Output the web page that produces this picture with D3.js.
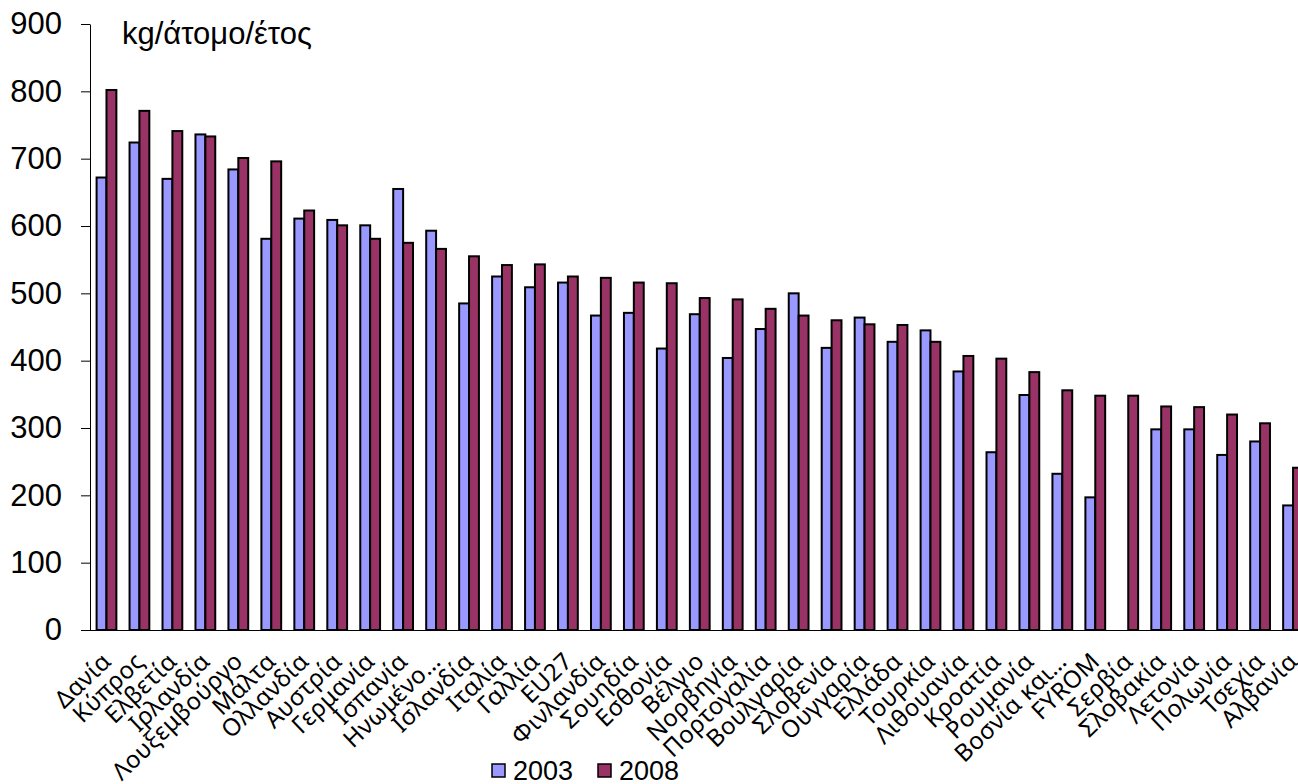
<!DOCTYPE html>
<html>
<head>
<meta charset="utf-8">
<script src="https://cdn.jsdelivr.net/npm/d3@7/dist/d3.min.js"></script>
<style>
  html, body { margin: 0; padding: 0; background: #fff; overflow: hidden; }
  svg { display: block; }
</style>
</head>
<body>
<svg id="chart" width="1298" height="784"></svg>
<script>
// Municipal waste generated per inhabitant (kg/person/year)
const categories = ["Δανία","Κύπρος","Ελβετία","Ιρλανδία","Λουξεμβούργο","Μάλτα","Ολλανδία","Αυστρία","Γερμανία","Ισπανία","Ηνωμένο…","Ισλανδία","Ιταλία","Γαλλία","EU27","Φινλανδία","Σουηδία","Εσθονία","Βέλγιο","Νορβηγία","Πορτογαλία","Βουλγαρία","Σλοβενία","Ουγγαρία","Ελλάδα","Τουρκία","Λιθουανία","Κροατία","Ρουμανία","Βοσνία και…","FYROM","Σερβία","Σλοβακία","Λετονία","Πολωνία","Τσεχία","Αλβανία"];
const values2003 = [672,724,670,736,684,581,611,609,601,655,593,485,525,509,516,467,471,418,469,404,447,500,419,464,428,445,384,264,349,232,197,null,298,298,260,280,185];
const values2008 = [802,771,741,733,701,696,623,601,581,575,566,555,542,543,525,523,516,515,493,491,477,467,460,454,453,428,407,403,383,356,348,348,332,331,320,307,241];
const seriesNames = ["2003","2008"];
const seriesColors = ["#9999FF","#993366"];
const yTicks = [0,100,200,300,400,500,600,700,800,900];
const unitLabel = "kg/άτομο/έτος";

const svg = d3.select("#chart");
const plotLeft = 90, plotTop = 24, plotBottom = 630;
const step = 32.96;
const plotRight = plotLeft + step * categories.length;

const x0 = d3.scaleBand().domain(categories).range([plotLeft, plotRight])
  .paddingInner(0.4).paddingOuter(0.2);
const x1 = d3.scaleBand().domain(seriesNames).range([0, x0.bandwidth()]);
const y = d3.scaleLinear().domain([0, 900]).range([plotBottom, plotTop]);

// Bars
const series = [values2003, values2008];
series.forEach((vals, si) => {
  svg.append("g").selectAll("rect")
    .data(categories.map((c, i) => ({ c, v: vals[i] })).filter(d => d.v != null))
    .join("rect")
    .attr("x", d => x0(d.c) + x1(seriesNames[si]))
    .attr("y", d => y(d.v))
    .attr("width", x1.bandwidth())
    .attr("height", d => y(0) - y(d.v))
    .attr("fill", seriesColors[si])
    .attr("stroke", "#000")
    .attr("stroke-width", 2);
});

// Y axis
const yAxis = svg.append("g")
  .attr("transform", `translate(${plotLeft},0)`)
  .call(d3.axisLeft(y).tickValues(yTicks).tickSize(9).tickSizeOuter(0).tickPadding(19));
yAxis.select(".domain").attr("stroke", "#000").attr("stroke-width", 1);
yAxis.selectAll(".tick line").attr("stroke", "#000");
yAxis.selectAll(".tick text")
  .attr("font-family", "Liberation Sans, Arial, sans-serif")
  .attr("font-size", 31)
  .attr("fill", "#000");

// X axis baseline
svg.append("line")
  .attr("x1", plotLeft).attr("x2", 1298)
  .attr("y1", y(0) + 0.5).attr("y2", y(0) + 0.5)
  .attr("stroke", "#000").attr("stroke-width", 1);

// Category labels
svg.append("g").selectAll("text")
  .data(categories)
  .join("text")
  .attr("transform", d => `translate(${x0(d) + x0.bandwidth() / 2 + 6},663) rotate(-44)`)
  .attr("text-anchor", "end")
  .attr("font-family", "'Noto Sans', 'DejaVu Sans', sans-serif")
  .attr("font-size", 24)
  .attr("letter-spacing", 0.4)
  .attr("fill", "#000")
  .text(d => d);

// Unit label
svg.append("text")
  .attr("x", 122).attr("y", 44)
  .attr("font-family", "Liberation Sans, Arial, sans-serif")
  .attr("font-size", 31)
  .attr("fill", "#000")
  .text(unitLabel);

// Legend
const legendX = [492, 598];
const legend = svg.append("g");
seriesNames.forEach((name, i) => {
  legend.append("rect")
    .attr("x", legendX[i]).attr("y", 764)
    .attr("width", 13).attr("height", 13)
    .attr("fill", seriesColors[i])
    .attr("stroke", "#000").attr("stroke-width", 1.5);
  legend.append("text")
    .attr("x", legendX[i] + 21).attr("y", 780)
    .attr("font-family", "Liberation Sans, Arial, sans-serif")
    .attr("font-size", 27)
    .attr("fill", "#000")
    .text(name);
});
</script>
</body>
</html>
